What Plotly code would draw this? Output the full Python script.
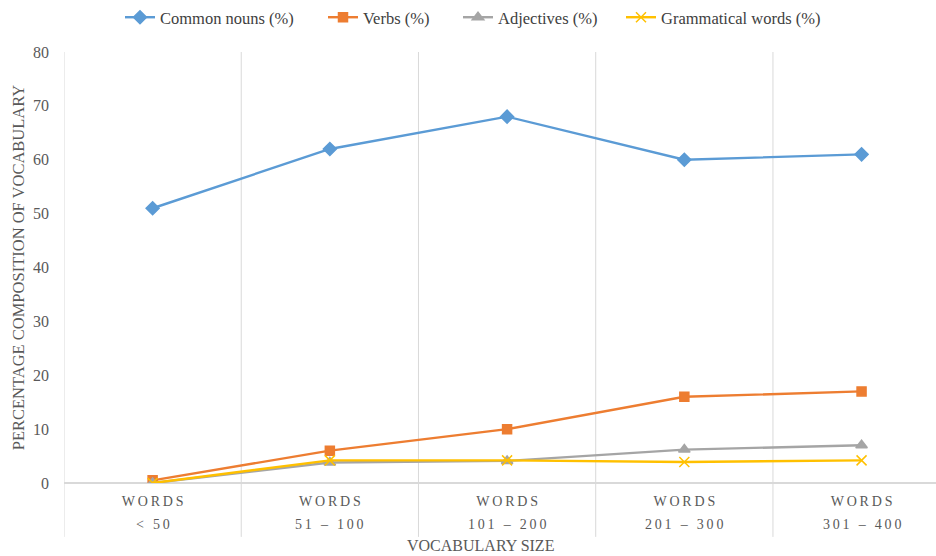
import plotly.graph_objects as go

categories = ["< 50", "51 – 100", "101 – 200", "201 – 300", "301 – 400"]
tick_top = "WORDS"
common_nouns = [51, 62, 68, 60, 61]
verbs = [0.5, 6, 10, 16, 17]
adjectives = [0, 3.8, 4.1, 6.2, 7]
grammatical = [0, 4.2, 4.2, 3.9, 4.2]
y_ticks = [0, 10, 20, 30, 40, 50, 60, 70, 80]

series = [
    ("Common nouns (%)", common_nouns, "#5B9BD5", "diamond", 10),
    ("Verbs (%)", verbs, "#ED7D31", "square", 9),
    ("Adjectives (%)", adjectives, "#A5A5A5", "triangle-up", 10),
    ("Grammatical words (%)", grammatical, "#FFC000", "x-thin-open", 10),
]
# left pixel of each legend entry (layout only)
legend_px = [120, 323, 458, 621]

FONT = "Liberation Serif, Times New Roman, serif"
L, W = 64, 872

x = list(range(len(categories)))
fig = go.Figure()
legends = {}
for k, ((name, vals, color, sym, size), px) in enumerate(zip(series, legend_px)):
    lname = "legend" if k == 0 else f"legend{k + 1}"
    fig.add_trace(go.Scatter(
        x=x, y=vals, name=name, mode="lines+markers", legend=lname,
        showlegend=True,
        line=dict(color=color, width=2.4),
        marker=dict(symbol=sym, size=size, color=color,
                    line=dict(color=color, width=1.5)),
    ))
    legends[lname] = dict(orientation="h", x=(px - L) / W, xanchor="left",
                          y=1.04, yanchor="bottom", bgcolor="rgba(0,0,0,0)",
                          font=dict(family=FONT, size=16.5, color="#404040"))

spaced = "\u2009".join(tick_top)

shapes = []
for i in range(len(categories)):
    shapes.append(dict(type="line", xref="x", yref="paper",
                       x0=i - 0.5, x1=i - 0.5, y0=-0.125, y1=1,
                       line=dict(color="#D9D9D9", width=1), layer="below"))

annotations = []
for i, c in enumerate(categories):
    annotations.append(dict(x=i, y=-0.097, xref="x", yref="paper",
                            text="\u2009".join(c), showarrow=False, yanchor="middle",
                            font=dict(family=FONT, size=14, color="#595959")))
annotations.append(dict(x=(480 - L) / W, y=-0.145, xref="paper", yref="paper",
                        text="VOCABULARY SIZE", showarrow=False, yanchor="middle",
                        font=dict(family=FONT, size=16, color="#595959")))

fig.update_layout(
    width=936, height=556,
    margin=dict(l=64, r=0, t=52, b=73),
    showlegend=True,
    paper_bgcolor="white", plot_bgcolor="white",
    font=dict(family=FONT, size=14, color="#595959"),
    xaxis=dict(range=[-0.5, 4.42], tickvals=x, ticktext=[spaced] * len(x),
               showgrid=False, zeroline=False, showline=False,
               ticks="outside", ticklen=5, tickcolor="rgba(0,0,0,0)",
               tickfont=dict(family=FONT, size=14, color="#595959")),
    yaxis=dict(range=[0, 80], tickvals=y_ticks, showgrid=False,
               zeroline=True, zerolinecolor="#D9D9D9", zerolinewidth=1.5,
               showline=False, ticks="", ticklabelstandoff=14,
               tickfont=dict(family=FONT, size=16, color="#595959"),
               title=dict(text="PERCENTAGE COMPOSITION OF VOCABULARY",
                          font=dict(family=FONT, size=16.5, color="#595959"),
                          standoff=4)),
    shapes=shapes, annotations=annotations,
    **legends,
)
fig.write_html("out.html")
